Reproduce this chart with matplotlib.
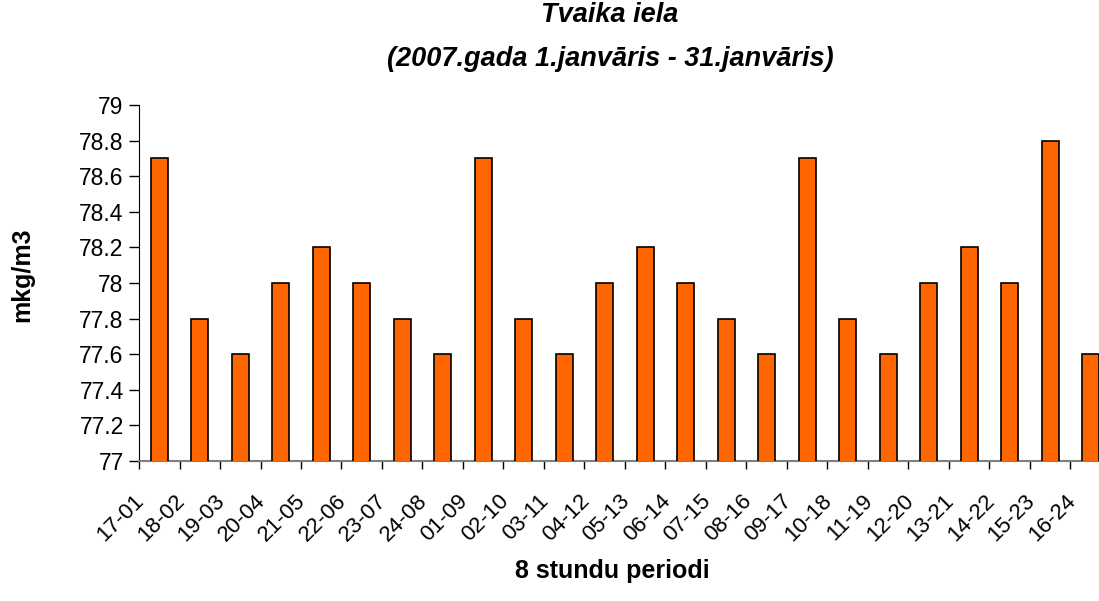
import matplotlib
matplotlib.use("Agg")
import matplotlib.pyplot as plt
from matplotlib.ticker import FuncFormatter, FixedLocator
import matplotlib.transforms as mtransforms
import numpy as np

categories = ["17-01", "18-02", "19-03", "20-04", "21-05", "22-06", "23-07", "24-08",
              "01-09", "02-10", "03-11", "04-12", "05-13", "06-14", "07-15", "08-16",
              "09-17", "10-18", "11-19", "12-20", "13-21", "14-22", "15-23", "16-24"]
values = [78.7, 77.8, 77.6, 78.0, 78.2, 78.0, 77.8, 77.6,
          78.7, 77.8, 77.6, 78.0, 78.2, 78.0, 77.8, 77.6,
          78.7, 77.8, 77.6, 78.0, 78.2, 78.0, 78.8, 77.6]
y_ticks = [77, 77.2, 77.4, 77.6, 77.8, 78, 78.2, 78.4, 78.6, 78.8, 79]

plt.rcParams['font.family'] = ['Liberation Sans', 'DejaVu Sans']

W, H = 1099, 601
fig = plt.figure(figsize=(W / 100, H / 100), dpi=100)
left, right, top, bottom = 139, 1111, 105, 461
ax = fig.add_axes([left / W, (H - bottom) / H, (right - left) / W, (bottom - top) / H])

x = np.arange(len(categories))
ax.bar(x, values, width=0.42, bottom=0, color='#FF6600', edgecolor='black', linewidth=1.2, zorder=3)
ax.set_xlim(-0.5, len(categories) - 0.5)
ax.set_ylim(77, 79)
ax.set_yticks(y_ticks)
ax.yaxis.set_major_formatter(FuncFormatter(lambda v, p: f"{v:g}"))

ax.set_xticks(x)
ax.set_xticklabels(categories, rotation=45, ha='right', rotation_mode='anchor', fontsize=16)
ax.tick_params(axis='x', which='major', length=0, pad=21)
offset = mtransforms.ScaledTranslation(-26 / 100, 0, fig.dpi_scale_trans)
for lab in ax.get_xticklabels():
    lab.set_transform(lab.get_transform() + offset)
ax.xaxis.set_minor_locator(FixedLocator(np.arange(-0.5, len(categories), 1.0)))
ax.tick_params(axis='x', which='minor', length=6, width=1, color='black', direction='out')
ax.tick_params(axis='y', length=7, width=1, labelsize=16.5, direction='out', pad=4)

for s in ['top', 'right']:
    ax.spines[s].set_visible(False)
ax.spines['left'].set_color('black')
ax.spines['bottom'].set_color('#808080')
ax.spines['bottom'].set_linewidth(1.5)

fig.text(610 / W, 1 - 15 / H, "Tvaika iela", ha='center', va='center',
         fontsize=19.5, fontweight='bold', fontstyle='italic')
fig.text(610 / W, 1 - 59 / H, "(2007.gada 1.janvāris - 31.janvāris)", ha='center', va='center',
         fontsize=19.5, fontweight='bold', fontstyle='italic')
fig.text(22 / W, 1 - 275 / H, "mkg/m3", rotation=90, ha='center', va='center',
         fontsize=18, fontweight='bold')
fig.text(612 / W, 1 - 571 / H, "8 stundu periodi", ha='center', va='center',
         fontsize=18, fontweight='bold')

fig.savefig("out.png", dpi=100)
